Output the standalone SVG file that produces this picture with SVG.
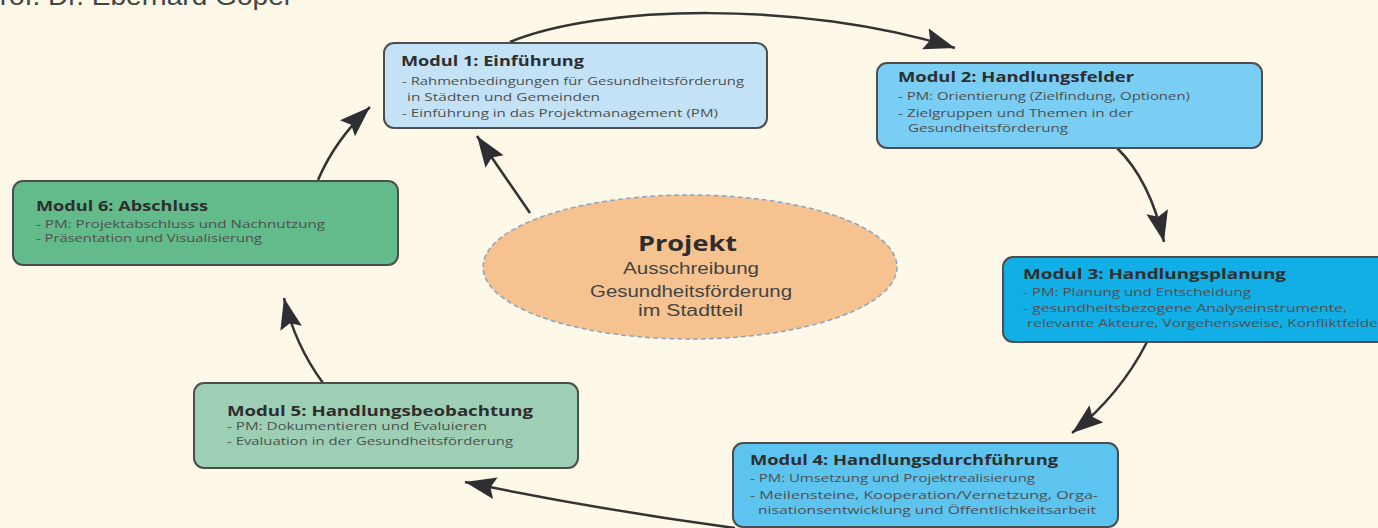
<svg xmlns="http://www.w3.org/2000/svg" width="1378" height="528" viewBox="0 0 1378 528">
<style>
.bg{fill:#fdf8e7}
.box{stroke:#4d4d4d;stroke-width:2}
.t{font-family:"Open Sans","Liberation Sans",sans-serif;font-weight:bold;font-size:13.5px;fill:#2e2e2e}
.l{font-family:"Open Sans","Liberation Sans",sans-serif;font-size:11px;fill:#4f4f4f}
.e{font-family:"Liberation Sans",Arial,sans-serif;font-size:16px;fill:#444}
.ar{fill:none;stroke:#333;stroke-width:2.5}
</style>
<defs>
<marker id="ah" markerUnits="userSpaceOnUse" markerWidth="34" markerHeight="24" refX="31" refY="11" orient="auto">
<path d="M0,0 L31,11 L0,22 L5,11 Z" fill="#2f2f33"/>
</marker>
</defs>
<rect class="bg" x="0" y="0" width="1378" height="528"/>
<text x="-19" y="5" font-family="Liberation Sans,Arial,sans-serif" font-size="26" fill="#444" textLength="309" lengthAdjust="spacingAndGlyphs">Prof. Dr. Eberhard Göpel</text>

<g id="connectors">
<path class="ar" d="M510,42 C600,5 800,0 955,48" marker-end="url(#ah)"/>
<path class="ar" d="M1117,148 Q1150,180 1164,242" marker-end="url(#ah)"/>
<path class="ar" d="M1147,342 Q1120,395 1072,433" marker-end="url(#ah)"/>
<path class="ar" d="M735,528 Q600,510 465,482" marker-end="url(#ah)"/>
<path class="ar" d="M323,383 Q295,345 284,298" marker-end="url(#ah)"/>
<path class="ar" d="M318,180 Q335,140 370,107" marker-end="url(#ah)"/>
<path class="ar" d="M530,213 L477,136" marker-end="url(#ah)"/>
</g>

<g id="projekt">
<ellipse cx="690" cy="267" rx="207" ry="72" fill="#f6c290" stroke="#8fa3bf" stroke-width="1.5" stroke-dasharray="5,3"/>
<text x="638" y="251" font-family="Open Sans,Liberation Sans,sans-serif" font-weight="bold" font-size="21" fill="#2e2e2e" textLength="99" lengthAdjust="spacingAndGlyphs">Projekt</text>
<text class="e" x="623" y="274" textLength="136" lengthAdjust="spacingAndGlyphs">Ausschreibung</text>
<text class="e" x="590" y="297" textLength="202" lengthAdjust="spacingAndGlyphs">Gesundheitsförderung</text>
<text class="e" x="638" y="316" textLength="105" lengthAdjust="spacingAndGlyphs">im Stadtteil</text>
</g>

<g id="modul1">
<rect class="box" x="384" y="43" width="383" height="85" rx="10" fill="#c3e2f6"/>
<text class="t" x="401" y="66" textLength="183" lengthAdjust="spacingAndGlyphs">Modul 1: Einführung</text>
<text class="l" x="402" y="85" textLength="342" lengthAdjust="spacingAndGlyphs">- Rahmenbedingungen für Gesundheitsförderung</text>
<text class="l" x="407" y="101" textLength="193" lengthAdjust="spacingAndGlyphs">in Städten und Gemeinden</text>
<text class="l" x="402" y="117" textLength="316" lengthAdjust="spacingAndGlyphs">- Einführung in das Projektmanagement (PM)</text>
</g>

<g id="modul2">
<rect class="box" x="877" y="63" width="385" height="85" rx="10" fill="#7acdf3"/>
<text class="t" x="898" y="82" textLength="236" lengthAdjust="spacingAndGlyphs">Modul 2: Handlungsfelder</text>
<text class="l" x="898" y="100" textLength="292" lengthAdjust="spacingAndGlyphs">- PM: Orientierung (Zielfindung, Optionen)</text>
<text class="l" x="898" y="117" textLength="235" lengthAdjust="spacingAndGlyphs">- Zielgruppen und Themen in der</text>
<text class="l" x="908" y="132" textLength="160" lengthAdjust="spacingAndGlyphs">Gesundheitsförderung</text>
</g>

<g id="modul3">
<rect class="box" x="1003" y="257" width="400" height="85" rx="10" fill="#12aee6"/>
<text class="t" x="1023" y="279" textLength="263" lengthAdjust="spacingAndGlyphs">Modul 3: Handlungsplanung</text>
<text class="l" x="1023" y="296" textLength="228" lengthAdjust="spacingAndGlyphs" fill="#333">- PM: Planung und Entscheidung</text>
<text class="l" x="1023" y="312" textLength="324" lengthAdjust="spacingAndGlyphs" fill="#333">- gesundheitsbezogene Analyseinstrumente,</text>
<text class="l" x="1027" y="327" textLength="357" lengthAdjust="spacingAndGlyphs" fill="#333">relevante Akteure, Vorgehensweise, Konfliktfelder</text>
</g>

<g id="modul4">
<rect class="box" x="733" y="443" width="385" height="84" rx="10" fill="#5dc3ef"/>
<text class="t" x="750" y="465" textLength="308" lengthAdjust="spacingAndGlyphs">Modul 4: Handlungsdurchführung</text>
<text class="l" x="750" y="482" textLength="285" lengthAdjust="spacingAndGlyphs">- PM: Umsetzung und Projektrealisierung</text>
<text class="l" x="750" y="499" textLength="348" lengthAdjust="spacingAndGlyphs">- Meilensteine, Kooperation/Vernetzung, Orga-</text>
<text class="l" x="758" y="514" textLength="338" lengthAdjust="spacingAndGlyphs">nisationsentwicklung und Öffentlichkeitsarbeit</text>
</g>

<g id="modul5">
<rect class="box" x="194" y="383" width="384" height="85" rx="10" fill="#9dcfb5"/>
<text class="t" x="227" y="416" textLength="306" lengthAdjust="spacingAndGlyphs">Modul 5: Handlungsbeobachtung</text>
<text class="l" x="227" y="430" textLength="260" lengthAdjust="spacingAndGlyphs">- PM: Dokumentieren und Evaluieren</text>
<text class="l" x="227" y="445" textLength="286" lengthAdjust="spacingAndGlyphs">- Evaluation in der Gesundheitsförderung</text>
</g>

<g id="modul6">
<rect class="box" x="13" y="181" width="385" height="84" rx="10" fill="#63ba8b"/>
<text class="t" x="36" y="211" textLength="172" lengthAdjust="spacingAndGlyphs">Modul 6: Abschluss</text>
<text class="l" x="36" y="228" textLength="289" lengthAdjust="spacingAndGlyphs">- PM: Projektabschluss und Nachnutzung</text>
<text class="l" x="36" y="242" textLength="226" lengthAdjust="spacingAndGlyphs">- Präsentation und Visualisierung</text>
</g>
</svg>
